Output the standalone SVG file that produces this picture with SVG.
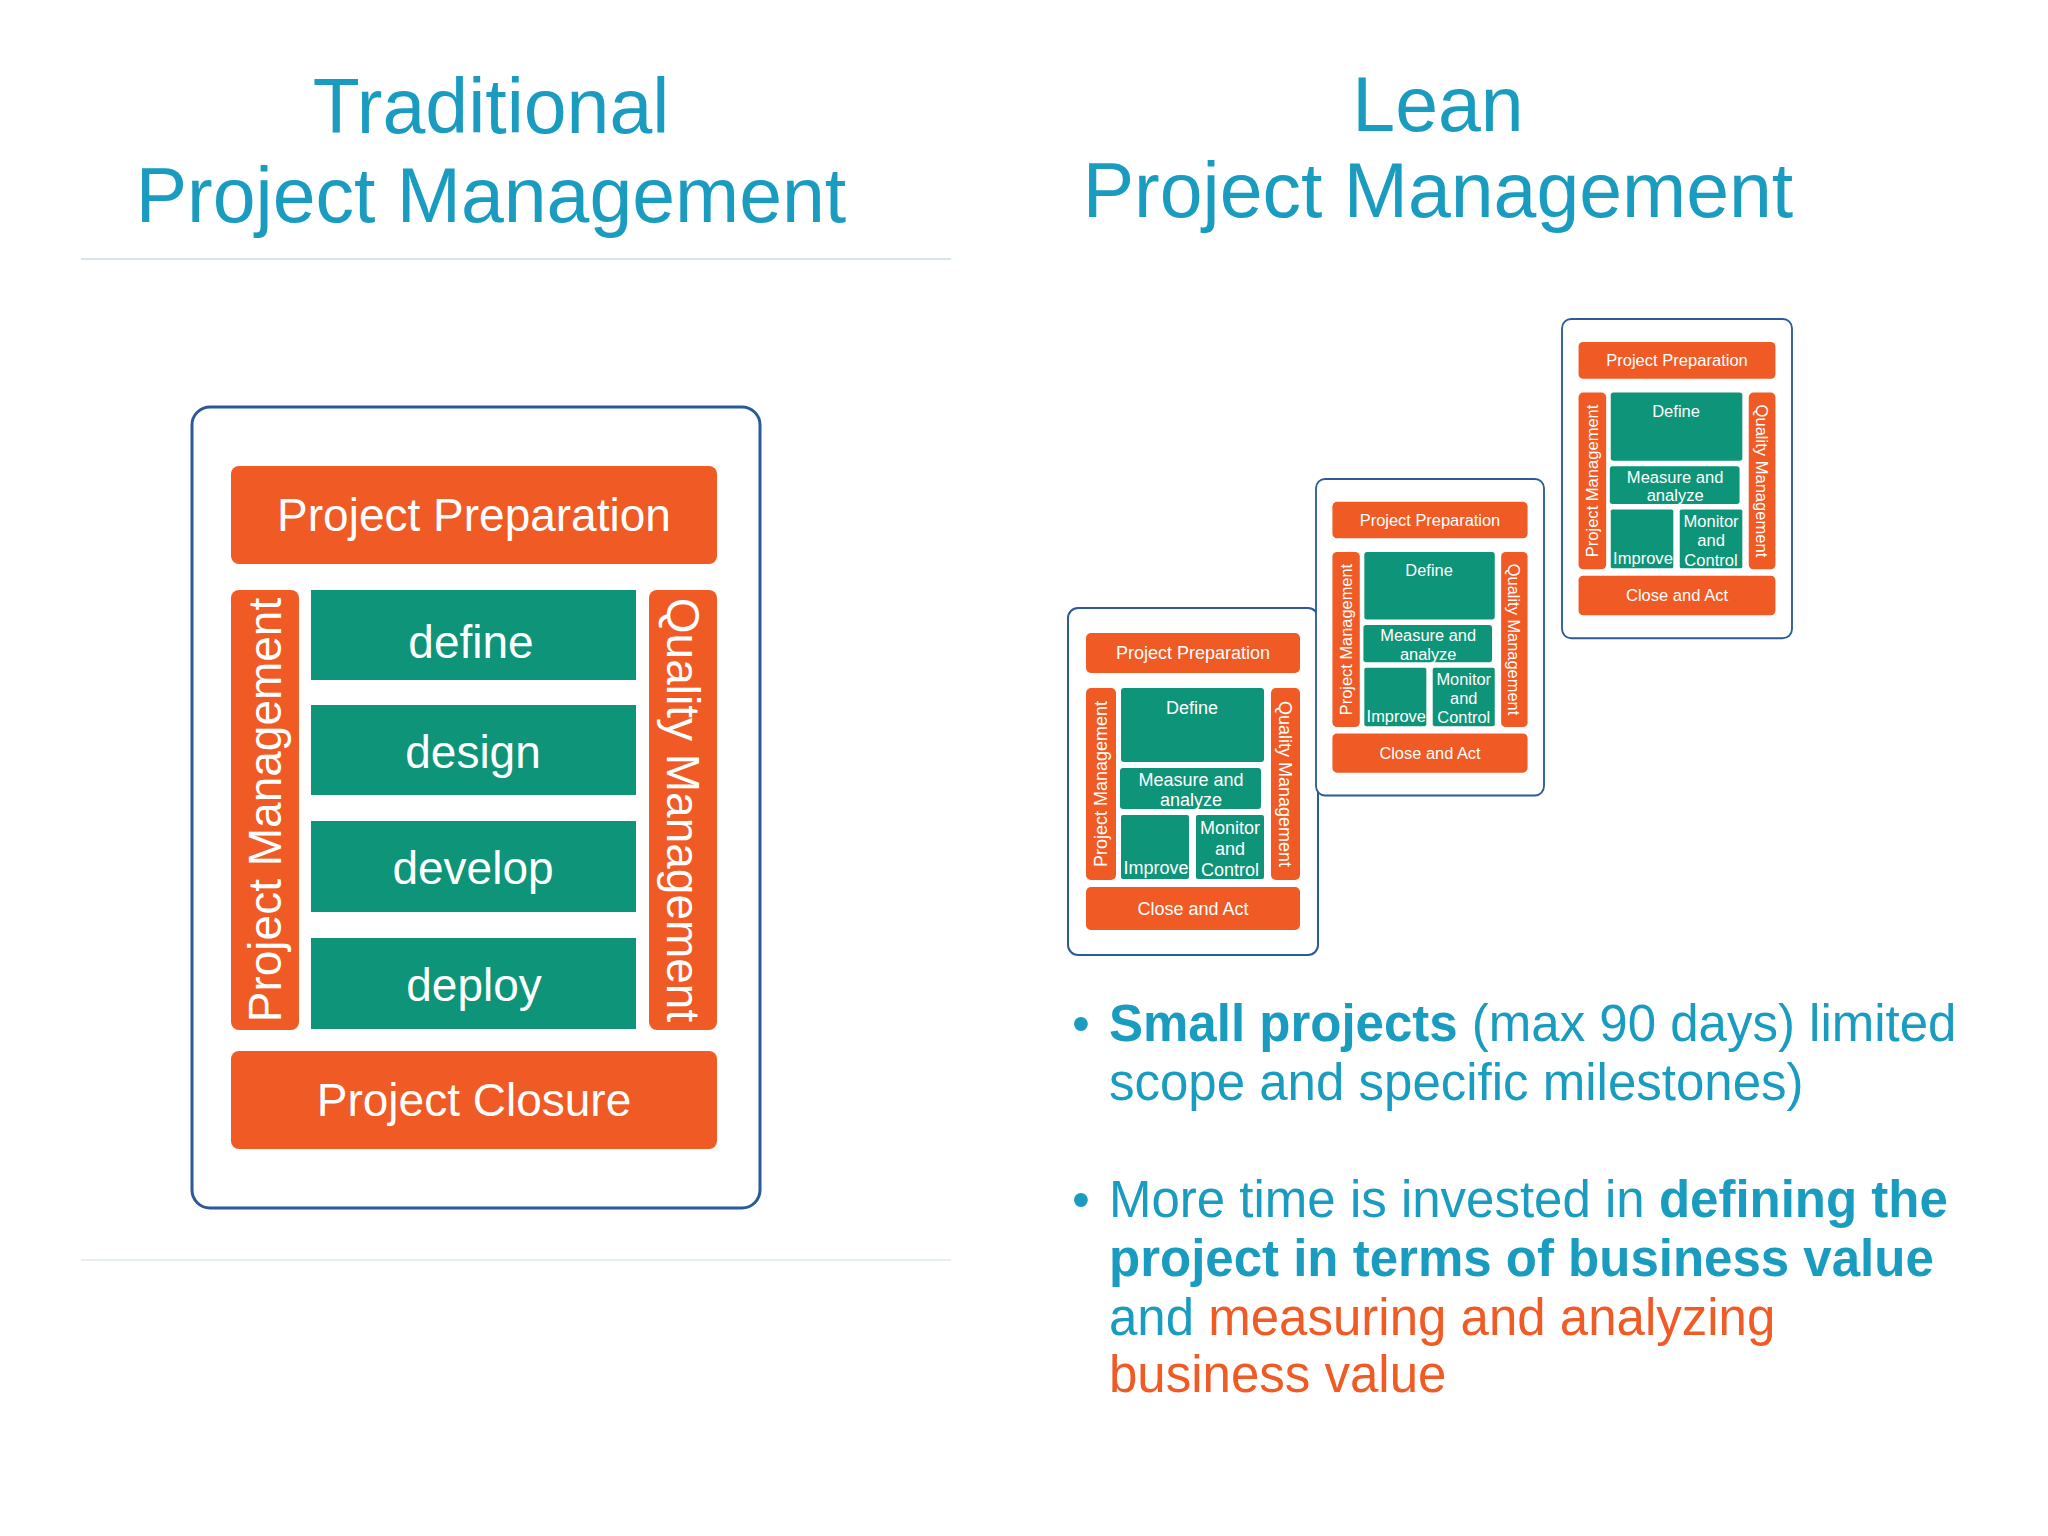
<svg xmlns="http://www.w3.org/2000/svg" width="2048" height="1536" viewBox="0 0 2048 1536">
<style>
text{font-family:"Liberation Sans",Arial,sans-serif}
.o{fill:#f05a24}.g{fill:#0e9478}
.w{fill:#fff;text-anchor:middle}
.t{fill:#1a9bc0;text-anchor:middle;font-size:77px}
.b{fill:#1a9bc0;font-size:51px}
.card{fill:#fff;stroke:#2a5a9a;stroke-width:2}
.cs{font-size:18px}
</style>
<defs>
<g id="card">
<rect class="card" x="0" y="0" width="250" height="347" rx="10"/>
<rect class="o" x="18" y="25" width="214" height="40" rx="5"/>
<text class="w cs" x="125" y="51">Project Preparation</text>
<rect class="o" x="18" y="80" width="30" height="192" rx="5"/>
<text class="w cs" transform="translate(39,176) rotate(-90)">Project Management</text>
<rect class="o" x="203" y="80" width="29" height="192" rx="5"/>
<text class="w cs" transform="translate(211,176) rotate(90)">Quality Management</text>
<rect class="g" x="53" y="80" width="143" height="74" rx="3"/>
<text class="w cs" x="124" y="118" dy="-12">Define</text>
<rect class="g" x="52" y="160" width="141" height="41" rx="3"/>
<text class="w cs" x="123" y="178">Measure and</text>
<text class="w cs" x="123" y="198">analyze</text>
<rect class="g" x="53" y="207" width="68" height="64" rx="2"/>
<text class="w cs" x="88" y="266">Improve</text>
<rect class="g" x="128" y="207" width="68" height="64" rx="2"/>
<text class="w cs" x="162" y="226">Monitor</text>
<text class="w cs" x="162" y="247">and</text>
<text class="w cs" x="162" y="268">Control</text>
<rect class="o" x="18" y="279" width="214" height="43" rx="5"/>
<text class="w cs" x="125" y="307">Close and Act</text>
</g>
</defs>
<rect width="2048" height="1536" fill="#fff"/>
<g id="titles">
<text class="t" x="491" y="133">Traditional</text>
<text class="t" x="491" y="222">Project Management</text>
<text class="t" x="1438" y="131">Lean</text>
<text class="t" x="1438" y="217">Project Management</text>
<line x1="81" y1="259" x2="951" y2="259" stroke="#d6e6ee" stroke-width="2"/>
<line x1="81" y1="1260" x2="951" y2="1260" stroke="#e6eef2" stroke-width="2"/>
</g>
<g id="traditional">
<rect x="192" y="407" width="568" height="801" rx="18" fill="#fff" stroke="#2a5a9a" stroke-width="3"/>
<g id="prep"><rect class="o" x="231" y="466" width="486" height="98" rx="8"/><text class="w" font-size="46" x="474" y="531">Project Preparation</text></g>
<g id="pm"><rect class="o" x="231" y="590" width="68" height="440" rx="8"/><text class="w" font-size="46" transform="translate(281,810) rotate(-90)">Project Management</text></g>
<g id="qm"><rect class="o" x="649" y="590" width="68" height="440" rx="8"/><text class="w" font-size="46" transform="translate(667,810) rotate(90)">Quality Management</text></g>
<g id="define"><rect class="g" x="311" y="590" width="325" height="90"/><text class="w" font-size="46" x="471" y="658">define</text></g>
<g id="design"><rect class="g" x="311" y="705" width="325" height="90"/><text class="w" font-size="46" x="473" y="768">design</text></g>
<g id="develop"><rect class="g" x="311" y="821" width="325" height="91"/><text class="w" font-size="46" x="473" y="884">develop</text></g>
<g id="deploy"><rect class="g" x="311" y="938" width="325" height="91"/><text class="w" font-size="46" x="474" y="1001">deploy</text></g>
<g id="closure"><rect class="o" x="231" y="1051" width="486" height="98" rx="8"/><text class="w" font-size="46" x="474" y="1116">Project Closure</text></g>
</g>
<g id="card1"><use href="#card" transform="translate(1068,608)"/></g>
<g id="card2"><use href="#card" transform="translate(1316,479) scale(0.912)"/></g>
<g id="card3"><use href="#card" transform="translate(1562,319) scale(0.92)"/></g>
<g id="bullets" class="b">
<text x="1072" y="1041">•</text>
<text x="1109" y="1041"><tspan font-weight="bold">Small projects</tspan> (max 90 days) limited</text>
<text x="1109" y="1100">scope and specific milestones)</text>
<text x="1072" y="1217">•</text>
<text x="1109" y="1217">More time is invested in <tspan font-weight="bold">defining the</tspan></text>
<text x="1109" y="1276" font-weight="bold">project in terms of business value</text>
<text x="1109" y="1335">and <tspan fill="#f05a24">measuring and analyzing</tspan></text>
<text x="1109" y="1392" fill="#f05a24">business value</text>
</g>
<g id="connectors"/>
</svg>
